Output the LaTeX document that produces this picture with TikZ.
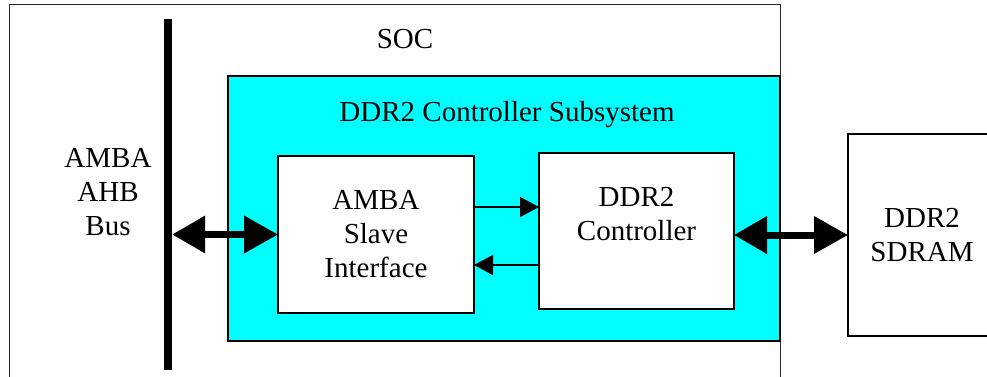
\documentclass[tikz,border=0pt]{standalone}
\usepackage{fontspec}
\setmainfont{Liberation Serif}
\usepackage{tikz}
\usetikzlibrary{arrows.meta,positioning}
\usepackage{xcolor}
\definecolor{subcyan}{RGB}{0,255,255}
\definecolor{socgray}{RGB}{40,40,40}
\tikzstyle{block} = [rectangle, draw=black, line width=1.3pt, fill=white, inner sep=0pt, outer sep=0pt, align=center]
\tikzstyle{bigarrow} = [line width=7pt, {Triangle[length=33pt,width=36pt]}-{Triangle[length=34pt,width=36pt]}]
\tikzstyle{smallarrow} = [line width=1.3pt, -{Triangle[length=19pt,width=20pt]}]
\begin{document}
\begin{tikzpicture}[x=1pt, y=-1pt, font=\fontsize{29}{34}\selectfont]
    \clip (0,0) rectangle (987,377);

    % Chip and subsystem
    \node[block, draw=socgray, line width=1pt, minimum width=771pt, minimum height=400pt, anchor=north west] (soc) at (9,5) {};
    \node (soclabel) at (405,39) {SOC};
    \node[block, fill=subcyan, minimum width=552pt, minimum height=265pt] (sub) at (504,208.5) {};
    \node (sublabel) at (507,115) {DDR2 Controller Subsystem};

    % Bus
    \node[fill=black, inner sep=0pt, minimum width=8pt, minimum height=351pt] (bus) at (168,194.5) {};
    \node[align=center] (buslabel) at (108,192.5) {AMBA\\AHB\\Bus};

    % Blocks
    \node[block, minimum width=196pt, minimum height=157pt] (slave) at (376,234.5) {AMBA\\Slave\\Interface};
    \node[block, minimum width=195pt, minimum height=156pt] (ctrl) at (636.5,231) {DDR2\\Controller\\~};
    \node[block, minimum width=148pt, minimum height=202pt] (sdram) at (922,235) {DDR2\\SDRAM};

    % Connections
    \draw[bigarrow] (bus.east |- slave.west) -- (slave.west);
    \draw[bigarrow] (ctrl.east |- sdram.west) -- (sdram.west);
    \draw[smallarrow] ([yshift=27.5pt]slave.east) -- ([yshift=24pt]ctrl.west);
    \draw[smallarrow] ([yshift=-34pt]ctrl.west) -- ([yshift=-30.5pt]slave.east);
\end{tikzpicture}
\end{document}
